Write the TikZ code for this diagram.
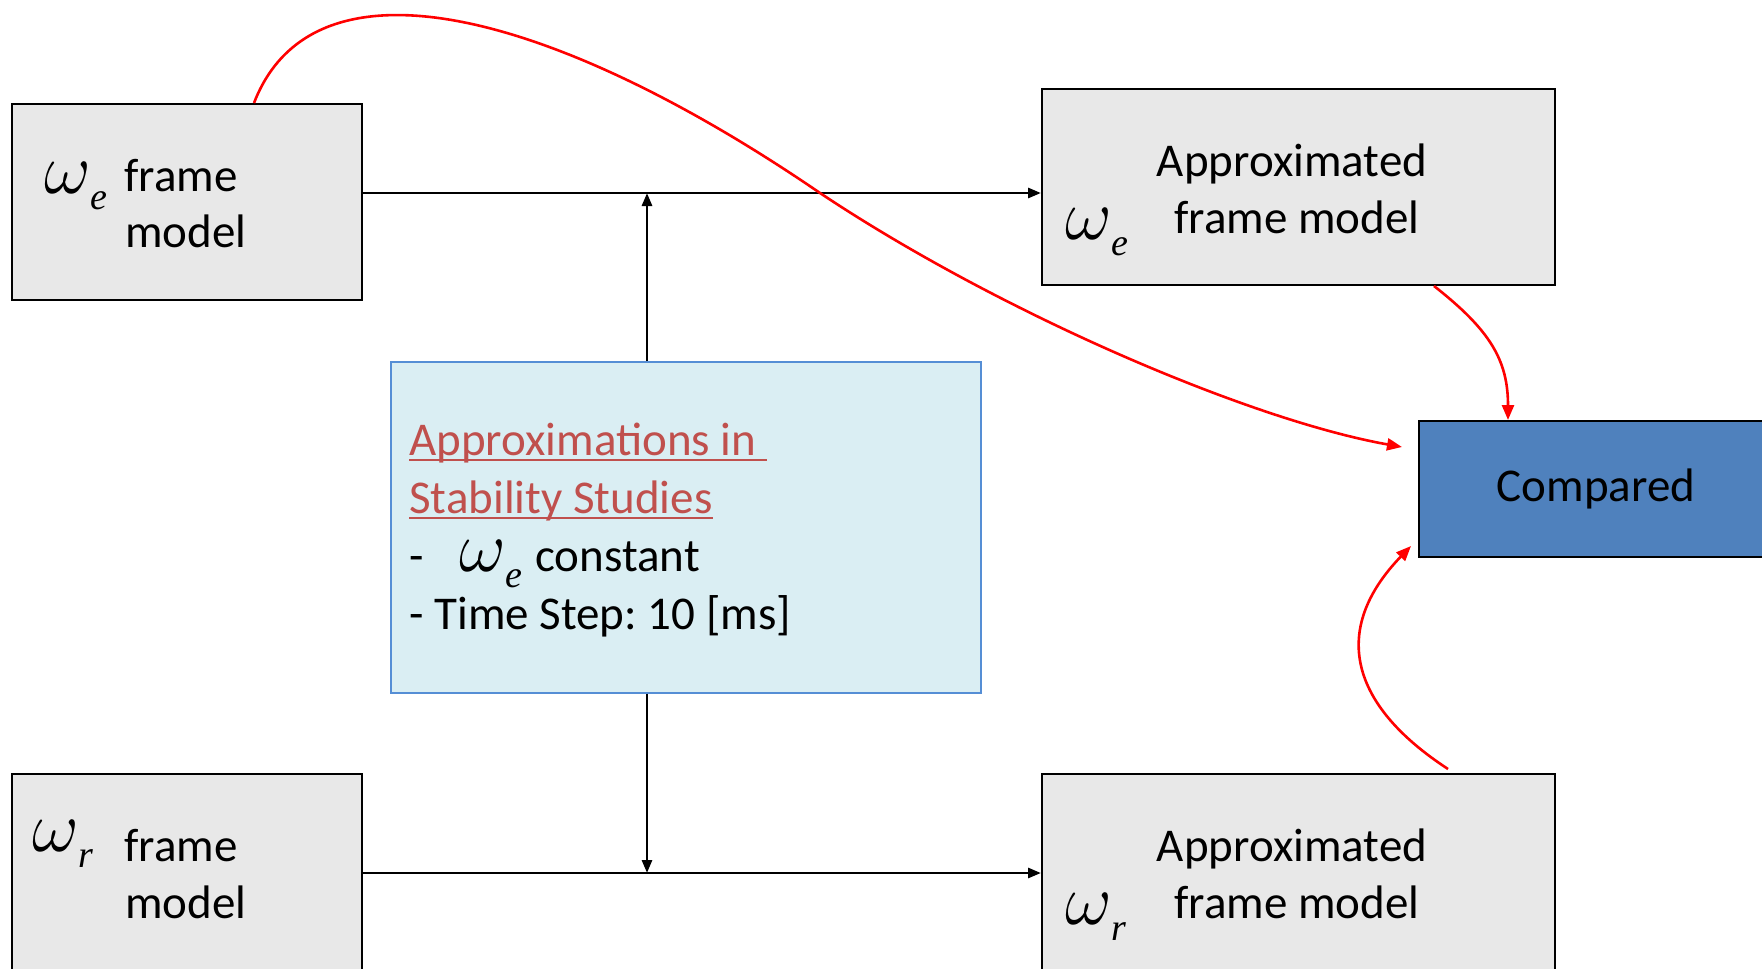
\documentclass[tikz,border=0pt]{standalone}
\usepackage{graphicx}
\usepackage{fontspec}
\setmainfont{Carlito}
\newfontfamily\omf{Liberation Serif}
\usetikzlibrary{arrows.meta,calc}
\definecolor{boxgray}{HTML}{E8E8E8}
\definecolor{lightblue}{HTML}{DAEEF3}
\definecolor{blueborder}{HTML}{558ED5}
\definecolor{cmpblue}{HTML}{4F81BD}
\definecolor{redtxt}{HTML}{C0504D}
\newlength\ulw
\newcommand\redul[1]{\settowidth\ulw{#1}\rlap{\rule[-3pt]{\ulw}{1pt}}#1}
\newcommand\om[1]{\scalebox{1.45}{\fontsize{24.88}{24.88}\selectfont$\omega$}\raisebox{-8pt}{\omf\itshape\fontsize{19}{19}\selectfont #1}}
\frenchspacing
\begin{document}
\begin{tikzpicture}[x=0.5pt,y=-0.5pt,
  gbox/.style={draw=black, line width=1pt, fill=boxgray, anchor=north west, inner sep=0pt},
  abox/.style={draw=blueborder, line width=0.8pt, fill=lightblue, anchor=north west, inner sep=0pt},
  cbox/.style={draw=black, line width=1pt, fill=cmpblue, anchor=north west, inner sep=0pt, font=\fontsize{23.5}{29}\selectfont},
  txt/.style={inner sep=0pt, anchor=base west, font=\fontsize{23.5}{29}\selectfont},
  ctxt/.style={inner sep=0pt, anchor=base, font=\fontsize{23.5}{29}\selectfont},
  arr/.style={draw=black, line width=1.4pt, -{Triangle[length=6.5pt,width=5pt]}},
  rarr/.style={draw=red, line width=1.3pt, -{Triangle[length=7.5pt,width=6pt]}}]
\clip (0,0) rectangle (1762,969);
\fill[white] (0,0) rectangle (1762,969);

% boxes
\node[gbox, minimum width=175pt, minimum height=98pt] (b1) at (11,103) {};
\node[gbox, minimum width=256.5pt, minimum height=98pt] (b2) at (1041,88) {};
\node[abox, minimum width=295pt, minimum height=165.5pt] (b3) at (390,361) {};
\node[cbox, minimum width=177pt, minimum height=68pt] (cmp) at (1418,420) {Compared};
\node[gbox, minimum width=175pt, minimum height=101pt] (b4) at (11,773) {};
\node[gbox, minimum width=256.5pt, minimum height=101pt] (b5) at (1041,773) {};

% texts box 1
\node[txt] (o1) at (44,193) {\om{e}};
\node[txt] (t1a) at (124,191) {frame};
\node[txt] (t1b) at (125,247) {model};
% texts box 2
\node[ctxt] (t2a) at (1292,176) {Approximated};
\node[ctxt] (t2b) at (1297,233) {frame model};
\node[txt] (o2) at (1065,239) {\om{e}};
% texts box 4
\node[txt] (o4) at (32,851) {\om{r}};
\node[txt] (t4a) at (124,861) {frame};
\node[txt] (t4b) at (125,918) {model};
% texts box 5
\node[ctxt] (t5a) at (1292,861) {Approximated};
\node[ctxt] (t5b) at (1297,918) {frame model};
\node[txt] (o5) at (1065,924) {\om{r}};
% text box 3
\node[txt] (t3) at (409,455) {\vtop{\baselineskip=29pt
  \hbox{\color{redtxt}\redul{Approximations in\ }}
  \hbox{\color{redtxt}\redul{Stability Studies}}
  \hbox{\makebox[25pt][l]{-}\makebox[38pt][l]{\om{e}}constant}
  \hbox{- Time Step: 10 [ms]}}};

% black connectors
\coordinate (jt) at (647,193);
\coordinate (jb) at (647,873);
\draw[arr] ($(b1.north east)+(0,90)$) -- ($(b2.north west)+(0,105)$);
\draw[arr] ($(b3.north west)+(257,0)$) -- (jt);
\draw[arr] ($(b4.north east)+(0,100)$) -- ($(b5.north west)+(0,100)$);
\draw[arr] ($(b3.south west)+(257,0)$) -- (jb);

% red connectors
\draw[rarr] ($(b1.north west)+(243,0)$) .. controls (315,-55) and (560,15) .. (820,193)
  .. controls (1000,313) and (1250,420) .. ($(cmp.north west)+(-16,27)$);
\draw[rarr] ($(b2.south west)+(393,0)$) .. controls (1490,330) and (1508,360) .. ($(cmp.north west)+(90,0)$);
\draw[rarr] ($(b5.north west)+(407,-4)$) .. controls (1350,705) and (1330,630) .. ($(cmp.south west)+(-7,-12)$);
\end{tikzpicture}
\end{document}
